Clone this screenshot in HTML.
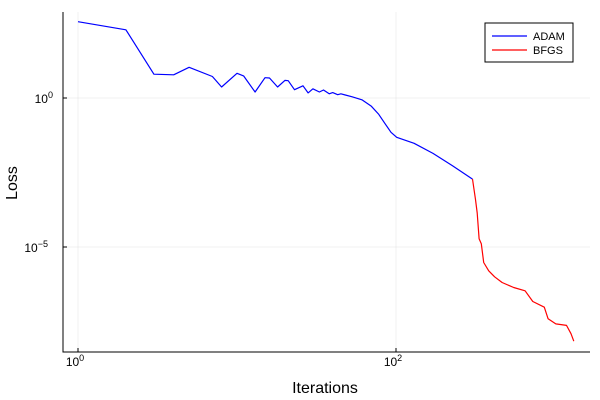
<!DOCTYPE html>
<html><head><meta charset="utf-8"><style>
body{margin:0;background:#fff}
svg{display:block;font-family:"Liberation Sans","DejaVu Sans",sans-serif}
</style></head><body>
<svg id="chart" width="600" height="400">
<rect width="600" height="400" fill="#fff"/>
</svg>
<script>
const adamIters=[1,2,3,4,5,7,8,10,11,13,15,16,18,20,21,23,26,28,30,33,35,38,40,43,45,48,53,61,70,78,85,93,101,130,171,226,303];
const adamLogLoss=[2.56,2.29,0.80,0.78,1.03,0.72,0.37,0.83,0.74,0.20,0.68,0.67,0.37,0.59,0.58,0.28,0.41,0.17,0.31,0.20,0.27,0.14,0.18,0.11,0.14,0.10,0.04,-0.06,-0.28,-0.55,-0.85,-1.15,-1.32,-1.52,-1.86,-2.27,-2.72];
const bfgsIters=[303,316,324,333,344,356,383,417,465,550,649,725,857,905,1011,1181,1260,1313];
const bfgsLogLoss=[-2.72,-3.41,-3.86,-4.72,-4.89,-5.52,-5.80,-6.0,-6.19,-6.36,-6.47,-6.83,-7.02,-7.41,-7.58,-7.63,-7.91,-8.16];
const xTicks=[1,100];
const xTickExp=["0","2"];
const yTicks=[0,-5];
const yTickExp=["0","−5"];
const NS='http://www.w3.org/2000/svg';
const svg=document.getElementById('chart');
const L=63,R=590,T=12,B=352;
const X=v=>78+159*Math.log10(v);
const Y=ly=>98-29.8*ly;
function mk(tag,attrs,parent){const e=document.createElementNS(NS,tag);for(const k in attrs)e.setAttribute(k,attrs[k]);(parent||svg).appendChild(e);return e;}
xTicks.forEach((t,i)=>{const g=mk('line',{x1:X(t),x2:X(t),y1:T,y2:B,stroke:'#000','stroke-opacity':0.1,'stroke-width':0.5});


const tk=mk('line',{x1:X(t),x2:X(t),y1:B,y2:B-4,stroke:'#000','stroke-width':1});


const tx=mk('text',{x:X(t)-3,y:B+14,'font-size':12,'text-anchor':'middle'});


tx.innerHTML='10<tspan dy="-5" font-size="9">'+xTickExp[i]+'</tspan>';});
yTicks.forEach((t,i)=>{const g=mk('line',{x1:L,x2:R,y1:Y(t),y2:Y(t),stroke:'#000','stroke-opacity':0.1,'stroke-width':0.5});


const tk=mk('line',{x1:L,x2:L+4,y1:Y(t),y2:Y(t),stroke:'#000','stroke-width':1});


const tx=mk('text',{x:L-4-(yTickExp[i].length>1?11:6),y:Y(t)+5,'font-size':12,'text-anchor':'end'});


tx.innerHTML='10<tspan dy="-5" font-size="9">'+yTickExp[i]+'</tspan>';});
const ax=mk('path',{d:`M${L},${T}V${B}H${R}`,fill:'none',stroke:'#000','stroke-width':1});


function line(xs,ys,color,name){const d=xs.map((x,i)=>(i?'L':'M')+X(x).toFixed(1)+','+Y(ys[i]).toFixed(1)).join('');
const p=mk('path',{d,fill:'none',stroke:color,'stroke-width':1.2,'stroke-linejoin':'round'});

}
line(adamIters,adamLogLoss,'#0000ff','adam-line');
line(bfgsIters,bfgsLogLoss,'#ff0000','bfgs-line');
const xl=mk('text',{x:325,y:393,'font-size':16,'text-anchor':'middle'});xl.textContent='Iterations';


const yl=mk('text',{x:0,y:0,'font-size':16,'text-anchor':'middle',transform:'translate(17,183) rotate(-90)'});yl.textContent='Loss';


const lg=mk('g',{});


mk('rect',{x:485,y:23,width:88,height:39,fill:'#fff',stroke:'#000','stroke-width':1},lg);
[['ADAM','#0000ff',36],['BFGS','#ff0000',50]].forEach(([n,c,y])=>{
const e=mk('g',{},lg);


mk('line',{x1:492,x2:527,y1:y,y2:y,stroke:c,'stroke-width':1.2},e);
const t=mk('text',{x:533,y:y+4,'font-size':11},e);t.textContent=n;});
</script>
</body></html>
